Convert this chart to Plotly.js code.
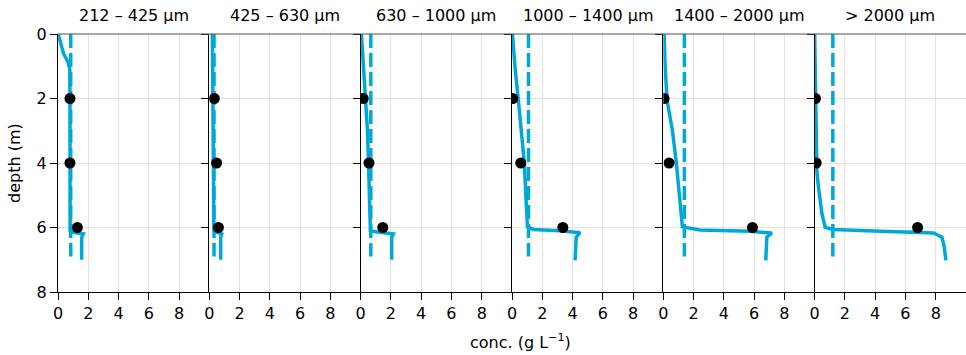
<!DOCTYPE html>
<html>
<head>
<meta charset="utf-8">
<script src="https://cdn.plot.ly/plotly-3.0.1.min.js"></script>
<style>html,body{margin:0;padding:0;background:#fff;}</style>
</head>
<body>
<div id="chart" style="width:966px;height:355px;"></div>
<script>
// ---- data ----
const panelTitles = ['212 – 425 μm', '425 – 630 μm', '630 – 1000 μm', '1000 – 1400 μm', '1400 – 2000 μm', '> 2000 μm'];
const depthTicks = [0, 2, 4, 6, 8];
const concTicks = [0, 2, 4, 6, 8];

// modelled profiles (solid)
const profDepth1 = [0, 0.3, 0.6, 0.87, 1.1, 2, 4, 6.1, 6.15, 6.2, 6.3, 7.0];
const profConc1  = [0.02, 0.18, 0.36, 0.66, 0.78, 0.79, 0.8, 0.8, 1.0, 1.67, 1.57, 1.56];
const profDepth2 = [0, 2, 4, 6.1, 6.15, 6.2, 6.3, 7.0];
const profConc2  = [0.2, 0.22, 0.26, 0.3, 0.5, 0.82, 0.75, 0.75];
const profDepth3 = [0, 1, 2, 3, 4, 5, 6.1, 6.15, 6.2, 6.3, 7.0];
const profConc3  = [0.05, 0.2, 0.35, 0.45, 0.52, 0.58, 0.64, 1.2, 2.16, 2.05, 2.05];
const profDepth4 = [0, 0.5, 1.03, 2.06, 3.3, 4.02, 5.15, 5.98, 6.06, 6.1, 6.16, 6.3, 7.02];
const profConc4  = [0.03, 0.1, 0.2, 0.42, 0.71, 0.82, 0.93, 1.02, 1.42, 3.18, 4.5, 4.24, 4.17];
const profDepth5 = [0, 1.03, 2.06, 2.5, 3, 4, 5, 5.98, 6.08, 6.12, 6.17, 6.3, 7.02];
const profConc5  = [0.05, 0.12, 0.25, 0.42, 0.6, 0.86, 1.08, 1.26, 2.43, 5.74, 7.17, 6.84, 6.77];
const profDepth6 = [0, 2.06, 4, 4.3, 4.74, 5.57, 6.0, 6.06, 6.1, 6.13, 6.17, 6.3, 6.6, 7.02];
const profConc6  = [0.0, 0.08, 0.1, 0.15, 0.25, 0.48, 0.7, 1.25, 3.45, 5.65, 7.85, 8.41, 8.56, 8.67];

// depth-mean concentration (dashed)
const meanConc  = [0.84, 0.31, 0.67, 1.09, 1.39, 1.2];
const meanDepth = [0, 6.9];

// observations (dots)
const obsDepth = [2, 4, 6];
const obsConc1 = [0.79, 0.79, 1.28];
const obsConc2 = [0.33, 0.48, 0.6];
const obsConc3 = [0.17, 0.55, 1.46];
const obsConc4 = [0.05, 0.58, 3.36];
const obsConc5 = [0.05, 0.38, 5.89];
const obsConc6 = [0.05, 0.1, 6.8];

const profDepths = [profDepth1, profDepth2, profDepth3, profDepth4, profDepth5, profDepth6];
const profConcs  = [profConc1, profConc2, profConc3, profConc4, profConc5, profConc6];
const obsConcs   = [obsConc1, obsConc2, obsConc3, obsConc4, obsConc5, obsConc6];

// ---- build ----
const blue = '#00a8d9';
const FONT = 'DejaVu Sans, Verdana, sans-serif';
const FS = 16;
const n = panelTitles.length;
const traces = [];
const layout = {
  width: 966, height: 355,
  margin: {l: 58, r: 0, t: 34, b: 63},
  paper_bgcolor: '#fff', plot_bgcolor: '#fff',
  showlegend: false,
  font: {family: FONT, size: FS, color: '#000'},
  annotations: [], shapes: []
};

for (let i = 0; i < n; i++) {
  const s = i === 0 ? '' : String(i + 1);
  const xa = 'x' + s, ya = 'y' + s;
  traces.push({x: [meanConc[i], meanConc[i]], y: meanDepth, xaxis: xa, yaxis: ya,
    mode: 'lines', line: {color: blue, width: 3.5, dash: '14px,5px'}, hoverinfo: 'skip'});
  traces.push({x: profConcs[i], y: profDepths[i], xaxis: xa, yaxis: ya,
    mode: 'lines', line: {color: blue, width: 3.5}, hoverinfo: 'skip'});
  traces.push({x: obsConcs[i], y: obsDepth, xaxis: xa, yaxis: ya,
    mode: 'markers', marker: {color: '#000', size: 11}, hoverinfo: 'skip'});

  const d0 = i / n, d1 = (i + 1) / n;
  layout['xaxis' + s] = {
    domain: [d0, d1], range: [0, 10], anchor: ya,
    tickvals: concTicks, ticktext: concTicks.map(String),
    ticks: 'outside', ticklen: 7, tickcolor: '#000', tickwidth: 1,
    showline: true, linecolor: '#000', linewidth: 1,
    showgrid: true, gridcolor: '#e3e3e3', gridwidth: 1, zeroline: false,
    tickfont: {family: FONT, size: FS, color: '#000'}, fixedrange: true
  };
  layout['yaxis' + s] = {
    domain: [0, 1], range: [8, 0], anchor: xa,
    tickvals: depthTicks, ticktext: depthTicks.map(String),
    ticks: 'outside', ticklen: 7, tickcolor: '#000', tickwidth: 1,
    showticklabels: i === 0,
    showline: true, linecolor: '#000', linewidth: 1,
    showgrid: true, gridcolor: '#e3e3e3', gridwidth: 1, zeroline: false,
    tickfont: {family: FONT, size: FS, color: '#000'}, fixedrange: true
  };
  layout.annotations.push({text: panelTitles[i], xref: 'paper', yref: 'paper',
    x: (d0 + d1) / 2, y: 1, xanchor: 'center', yanchor: 'middle', yshift: 19,
    showarrow: false, font: {family: FONT, size: FS, color: '#000'}});
}

layout.annotations.push({text: 'conc. (g L<sup>−1</sup>)', xref: 'paper', yref: 'paper',
  x: (520 - 58) / 908, y: 0, xanchor: 'center', yanchor: 'middle', yshift: -49,
  showarrow: false, font: {family: FONT, size: FS, color: '#000'}});
layout.annotations.push({text: 'depth (m)', xref: 'paper', yref: 'paper',
  x: 0, y: 0.5, xanchor: 'center', yanchor: 'middle', xshift: -44, textangle: -90,
  showarrow: false, font: {family: FONT, size: FS, color: '#000'}});
layout.shapes.push({type: 'line', xref: 'paper', yref: 'paper', x0: 0, x1: 1, y0: 1, y1: 1,
  line: {color: '#555', width: 1.2}});

Plotly.newPlot('chart', traces, layout, {staticPlot: true, displayModeBar: false});
</script>
</body>
</html>
